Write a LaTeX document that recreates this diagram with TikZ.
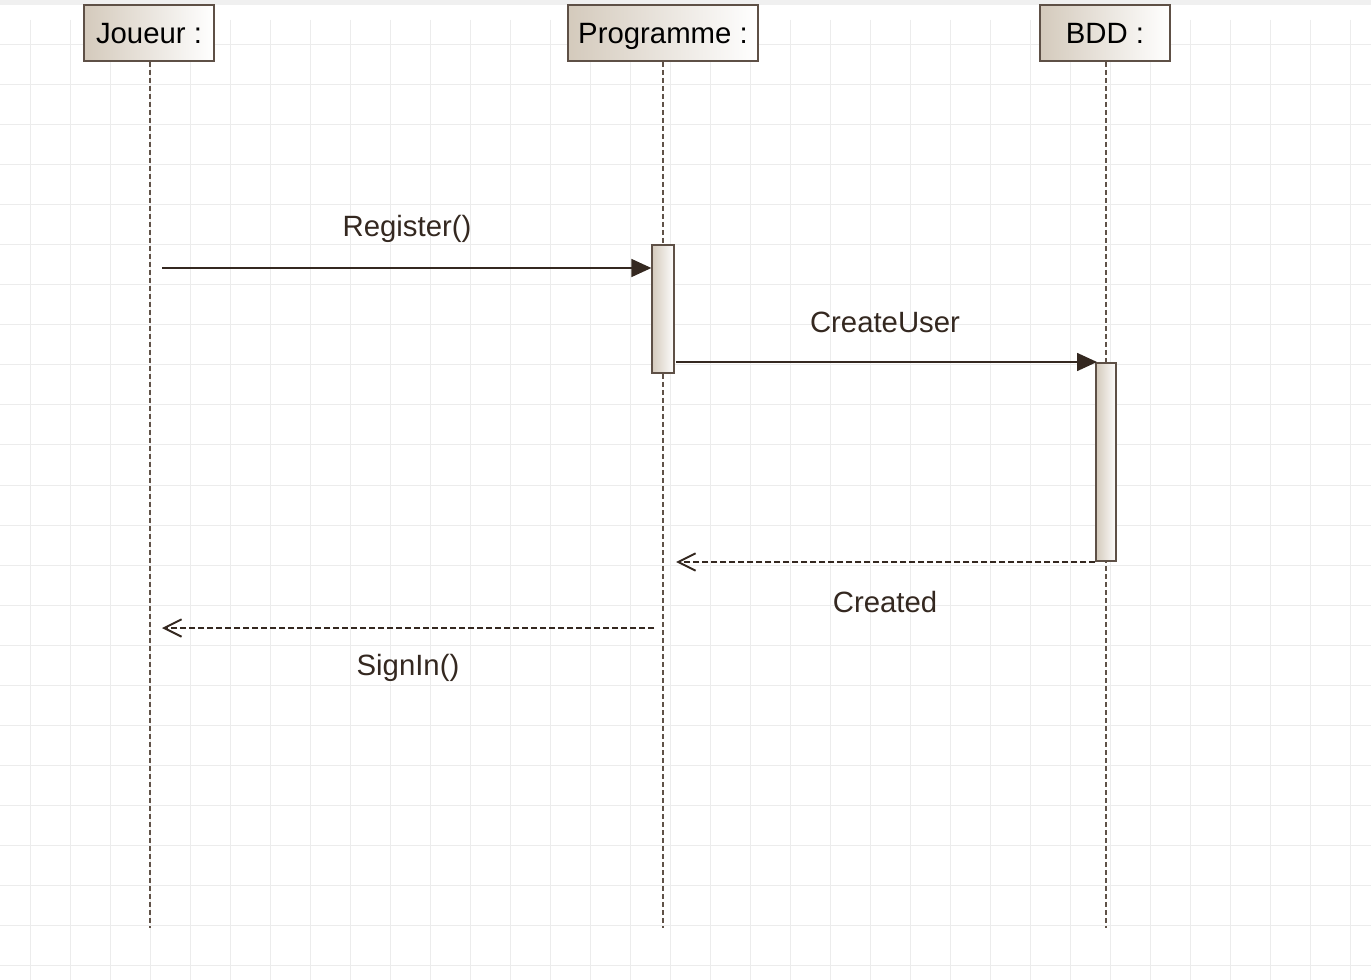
\documentclass[tikz,border=0pt]{standalone}
\usepackage{fontspec}
\setmainfont{Liberation Sans}
\usetikzlibrary{arrows.meta}
\definecolor{gridc}{RGB}{236,236,236}
\definecolor{topband}{RGB}{240,240,240}
\definecolor{boxborder}{RGB}{94,80,70}
\definecolor{boxleft}{RGB}{212,202,188}
\definecolor{msgc}{RGB}{52,40,32}
\definecolor{lifec}{RGB}{96,82,72}
\tikzset{
  objbox/.style={draw=boxborder, line width=1.5pt, left color=boxleft, right color=white,
    minimum height=42pt, inner sep=0pt, text height=16pt, text depth=0.5pt,
    font=\fontsize{22}{26}\selectfont, text=black},
  actbox/.style={draw=boxborder, line width=1pt, left color=boxleft, right color=white!96!boxleft, inner sep=0pt},
  lifeline/.style={draw=lifec, line width=1.5pt, dash pattern=on 3.75pt off 2.25pt},
  syncmsg/.style={draw=msgc, line width=1.2pt, -{Triangle[length=15pt,width=13.5pt]}},
  retmsg/.style={draw=msgc, line width=1.3pt, dash pattern=on 4.5pt off 2.25pt, -{Straight Barb[length=13pt,width=13pt,line width=1.5pt]}},
  msglabel/.style={font=\fontsize{22}{26}\selectfont, text=msgc, inner sep=0pt}
}
\begin{document}
\begin{tikzpicture}[x=0.75pt,y=-0.75pt]
\useasboundingbox (0,0) rectangle (1371,980);
\fill[white] (0,0) rectangle (1371,980);
% grid
\foreach \gx in {30,70,...,1370} \draw[gridc, line width=0.75pt] (\gx,20) -- (\gx,980);
\foreach \gy in {45,85,...,979} \draw[gridc, line width=0.75pt] (0,\gy) -- (1371,\gy);
\fill[topband] (0,0) rectangle (1371,5);
% objects
\node[objbox, minimum width=97.5pt] (joueur) at (149,33) {Joueur :};
\node[objbox, minimum width=142.5pt] (prog) at (663,33) {Programme :};
\node[objbox, minimum width=97.5pt] (bdd) at (1105,33) {BDD :};
% lifeline ends
\coordinate (jend) at (150,928);
\coordinate (pend) at (663,928);
\coordinate (bend) at (1106,928);
\draw[lifeline] (joueur.south -| jend) -- (jend);
\draw[lifeline] (prog.south -| pend) -- (pend);
\draw[lifeline] (bdd.south -| bend) -- (bend);
% activations
\node[actbox, minimum width=16.5pt, minimum height=96pt] (pact) at (663,309) {};
\node[actbox, minimum width=15pt, minimum height=148.5pt] (bact) at (1106,462) {};
% message endpoints
\coordinate (regstart) at (162,268);
\coordinate (regend) at (pact.west |- regstart);
\coordinate (cuend) at (1097,362);
\coordinate (custart) at (676,362);
\coordinate (crend) at (676,562);
\coordinate (crstart) at (bact.west |- crend);
\coordinate (sistart) at (654,628);
\coordinate (siend) at (162,628);
% messages
\draw[syncmsg] (regstart) -- (regend);
\draw[syncmsg] (custart) -- (cuend);
\draw[retmsg] (crstart) -- (crend);
\draw[retmsg] (sistart) -- (siend);
% labels
\node[msglabel] (lreg) at (407,229) {Register()};
\node[msglabel] (lcu) at (885,322) {CreateUser};
\node[msglabel] (lcr) at (885,602) {Created};
\node[msglabel] (lsi) at (408,668) {SignIn()};
\end{tikzpicture}
\end{document}
